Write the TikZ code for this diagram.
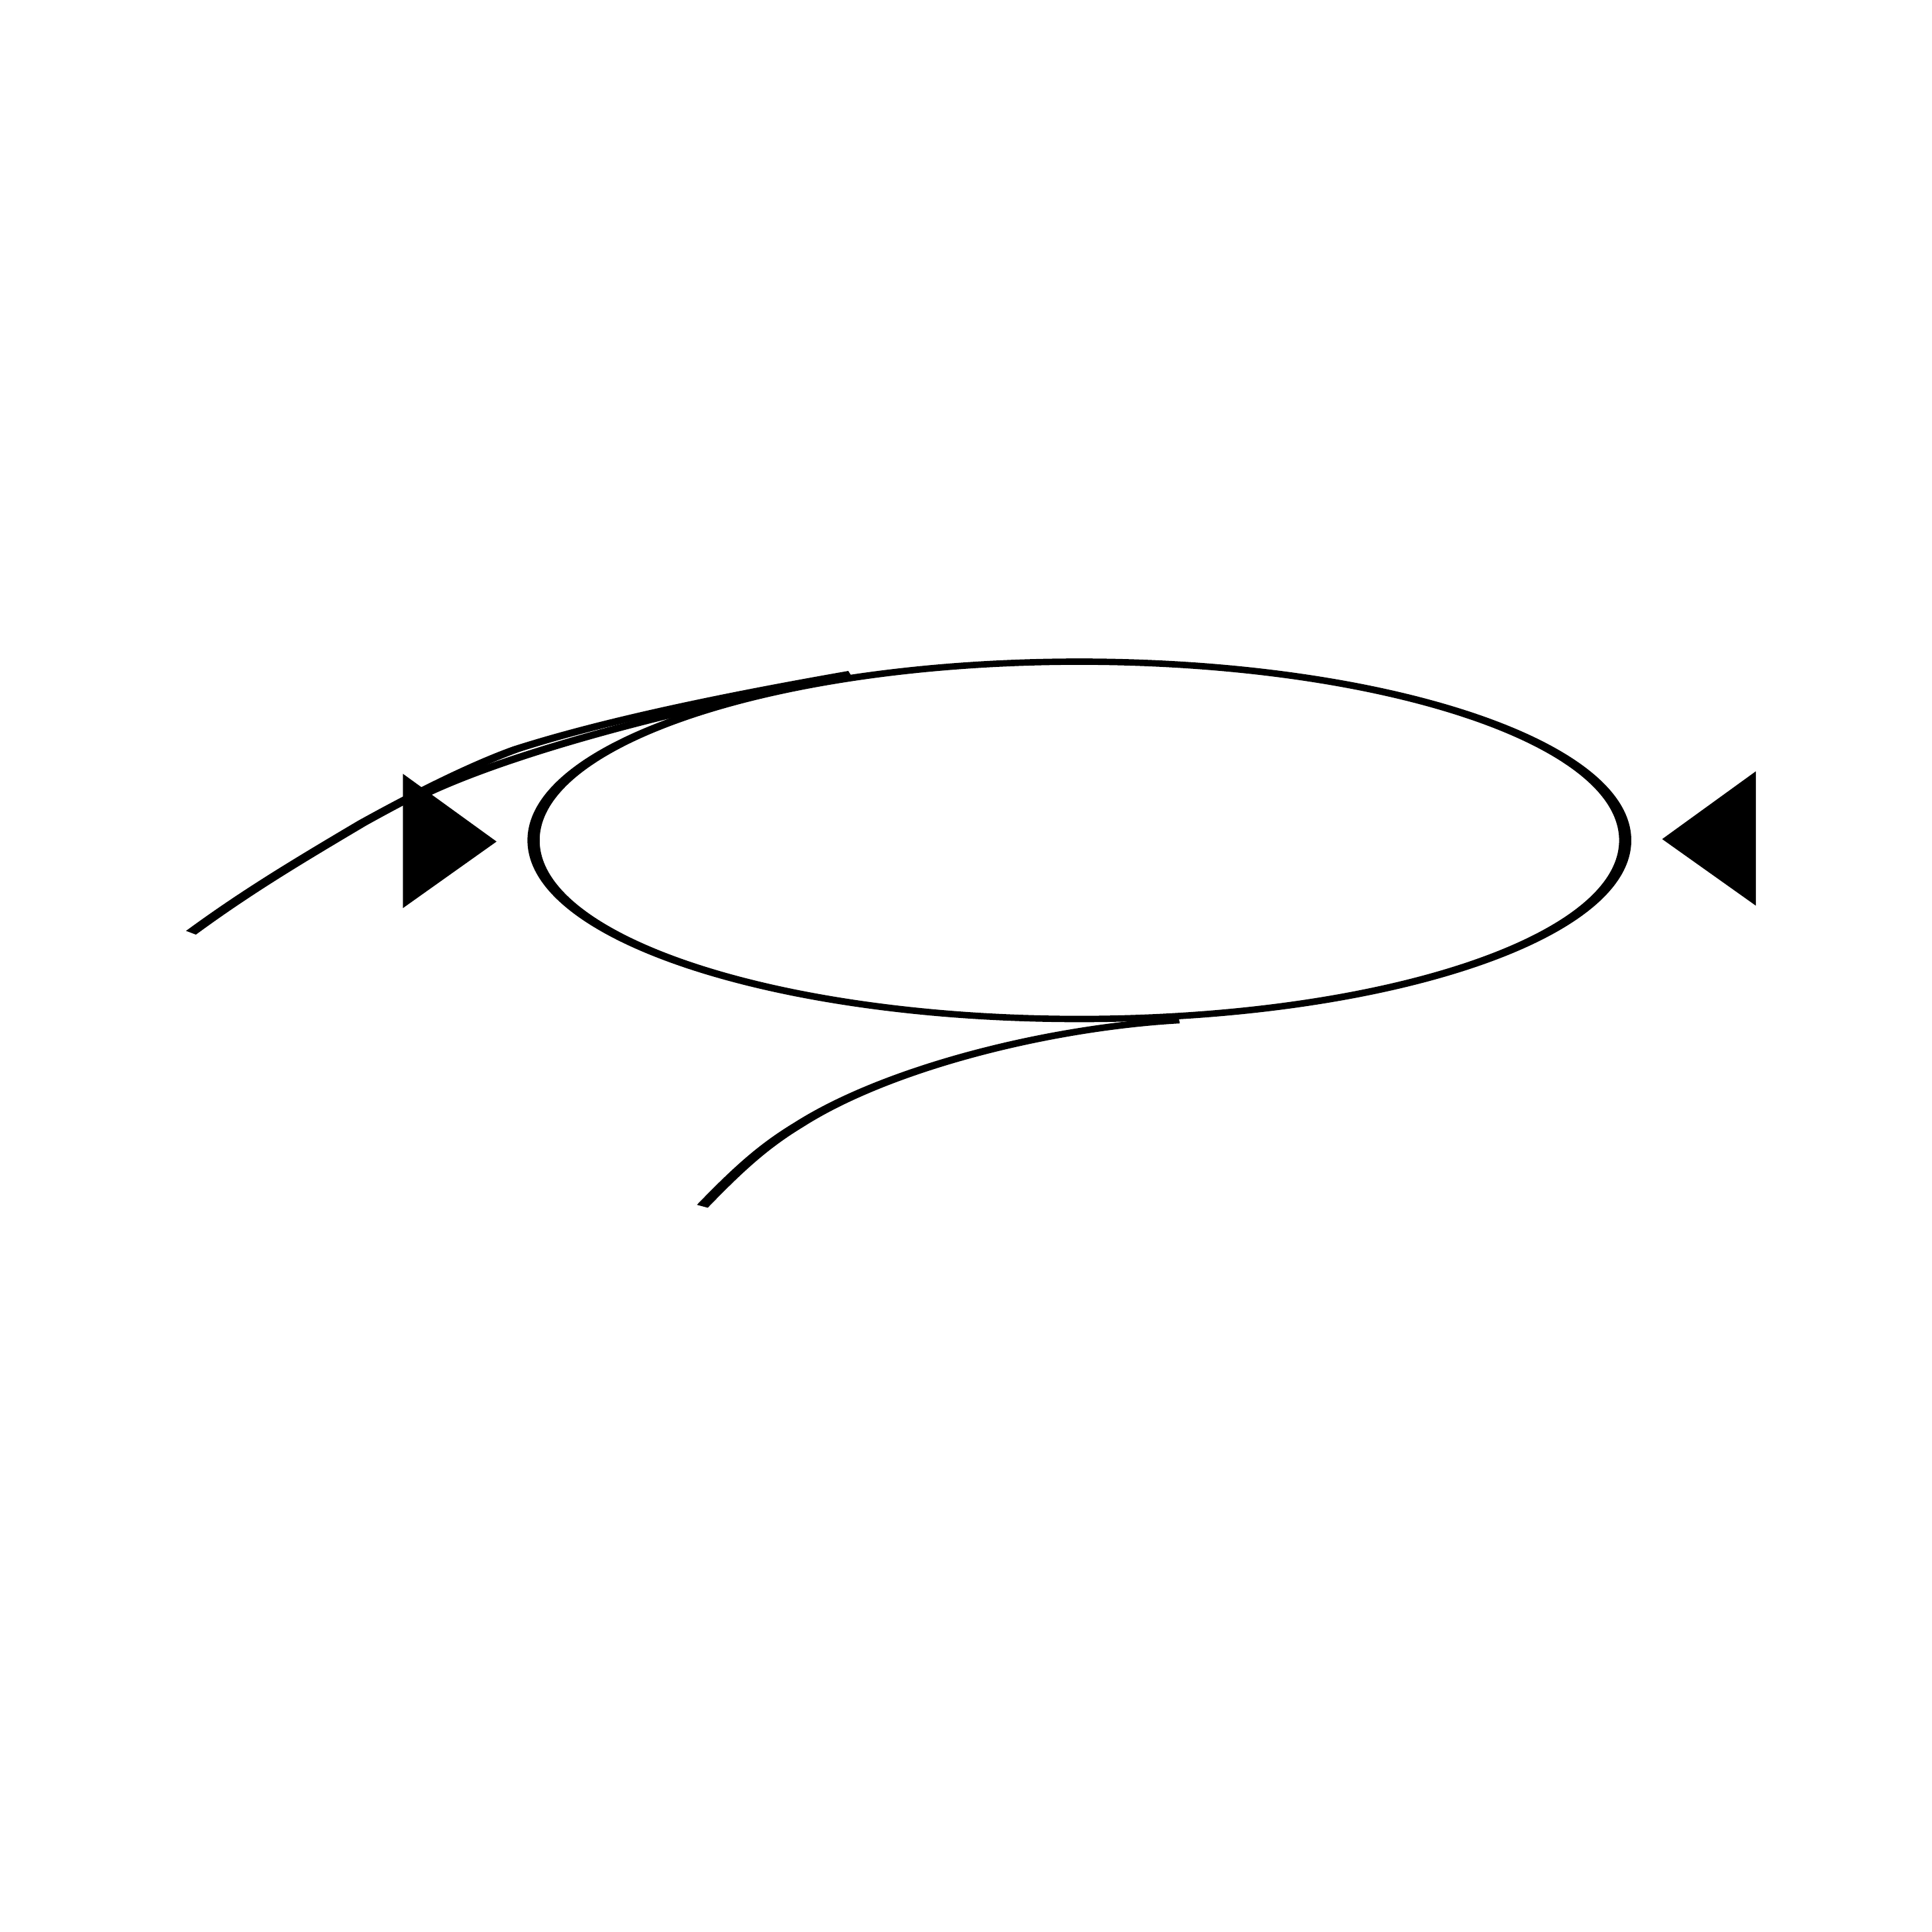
\documentclass[tikz,border=0pt]{standalone}
\usetikzlibrary{shapes.geometric}
\begin{document}
\begin{tikzpicture}[x=1pt,y=-1pt,
  wire/.style={line width=5.2pt, black},
  tri/.style={fill=black, draw=none}]
\useasboundingbox (0,0) rectangle (1568,1568);
\fill[white] (0,0) rectangle (1568,1568);
% arrowheads
\fill[tri] (327,628) -- (327,737) -- (403,683) -- cycle;
\fill[tri] (1425,626) -- (1425,735) -- (1349,681) -- cycle;
\begin{scope}[x=0.526316pt, transform canvas={xscale=1.9}]
\node[ellipse, draw, line width=5.2pt, minimum width=466.3pt, minimum height=290pt, inner sep=0pt] (E) at (876,682) {};
\coordinate (a0) at (155,757);
\coordinate (a2) at (294,668);
\coordinate (a4) at (419,608);
\coordinate (a6) at (690,547);
\coordinate (b0) at (343,645);
\coordinate (b4) at (620,563);
\coordinate (c0) at (570,979);
\coordinate (c1) at (648,913);
\coordinate (c6) at (957,828);
\draw[wire] (a0) .. controls (200,724) and (240,700) .. (a2)
  .. controls (330,648) and (380,622) .. (a4)
  .. controls (500,582) and (610,561) .. (a6);
\draw[wire] (b0) .. controls (400,618) and (500,588) .. (b4);
\draw[wire] (c0) .. controls (600,948) and (620,930) .. (c1)
  .. controls (720,867) and (850,834) .. (c6);
\end{scope}
\end{tikzpicture}
\end{document}
